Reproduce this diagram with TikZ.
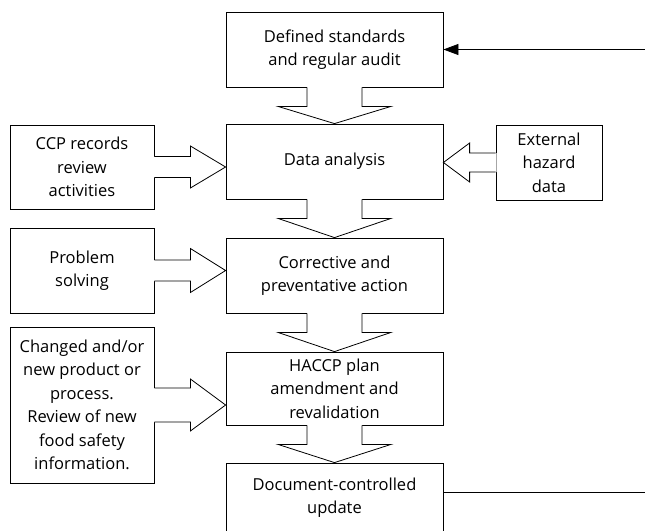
\documentclass[tikz,border=0pt]{standalone}
\usepackage{fontspec}
\setmainfont{Open Sans}
\usetikzlibrary{arrows.meta,calc}

% Hollow block arrows joining two boxes; the white fill overshoots 1pt
% into the source box so that its edge is opened between the stem lines.
\newcommand\blockdown[2]{%
  \fill[white] let \p1=(#1.south), \p2=(#2.north) in
    (\x1-27.5pt,\y1+1pt) -- (\x1-27.5pt,\y1-19pt) -- (\x1-56.5pt,\y1-19pt) --
    (\x1,\y2) -- (\x1+56.5pt,\y1-19pt) -- (\x1+27.5pt,\y1-19pt) --
    (\x1+27.5pt,\y1+1pt) -- cycle;
  \draw[blk] let \p1=(#1.south), \p2=(#2.north) in
    (\x1-27.5pt,\y1) -- (\x1-27.5pt,\y1-19pt) -- (\x1-56.5pt,\y1-19pt) --
    (\x1,\y2) -- (\x1+56.5pt,\y1-19pt) -- (\x1+27.5pt,\y1-19pt) --
    (\x1+27.5pt,\y1);}
\newcommand\blockright[4]{% from, to, stem half-width, head half-width
  \fill[white] let \p1=(#1.east), \p2=(#2.west) in
    (\x1-1pt,\y1+#3) -- (\x1+36pt,\y1+#3) -- (\x1+36pt,\y1+#4) --
    (\x2,\y1) -- (\x1+36pt,\y1-#4) -- (\x1+36pt,\y1-#3) --
    (\x1-1pt,\y1-#3) -- cycle;
  \draw[blk] let \p1=(#1.east), \p2=(#2.west) in
    (\x1,\y1+#3) -- (\x1+36pt,\y1+#3) -- (\x1+36pt,\y1+#4) --
    (\x2,\y1) -- (\x1+36pt,\y1-#4) -- (\x1+36pt,\y1-#3) -- (\x1,\y1-#3);}
\newcommand\blockleft[4]{%
  \fill[white] let \p1=(#1.west), \p2=(#2.east) in
    (\x1+1pt,\y1+#3) -- (\x1-26pt,\y1+#3) -- (\x1-26pt,\y1+#4) --
    (\x2,\y1) -- (\x1-26pt,\y1-#4) -- (\x1-26pt,\y1-#3) --
    (\x1+1pt,\y1-#3) -- cycle;
  \draw[blk] let \p1=(#1.west), \p2=(#2.east) in
    (\x1,\y1+#3) -- (\x1-26pt,\y1+#3) -- (\x1-26pt,\y1+#4) --
    (\x2,\y1) -- (\x1-26pt,\y1-#4) -- (\x1-26pt,\y1-#3) -- (\x1,\y1-#3);}

\begin{document}
\begin{tikzpicture}[x=1pt,y=-1pt,
  box/.style={draw, line width=0.8pt, align=center, inner sep=0pt,
    font=\fontsize{16.5}{23.5}\selectfont},
  mainbox/.style={box, minimum width=217pt},
  sidebox/.style={box, minimum width=144pt},
  blk/.style={draw, line width=0.8pt, line join=miter},
  loopline/.style={draw, line width=0.8pt}]
\useasboundingbox (0,0) rectangle (645,530);

% main column
\node[mainbox, minimum height=75pt] (std)  at (334.5,49.5)  {Defined standards\\and regular audit};
\node[mainbox, minimum height=75pt] (data) at (334.5,161.5) {Data analysis};
\node[mainbox, minimum height=75pt] (corr) at (334.5,275.5) {Corrective and\\preventative action};
\node[mainbox, minimum height=73pt] (plan) at (334.5,388.5) {HACCP plan\\amendment and\\revalidation};
\node[mainbox, minimum height=69pt] (doc)  at (334.5,497.5) {Document-controlled\\update};

% inputs
\node[sidebox, minimum height=84pt]  (ccp)  at (82,167)   {CCP records\\review\\activities};
\node[sidebox, minimum height=85pt]  (prob) at (82,270.5) {Problem\\solving};
\node[sidebox, minimum height=156pt] (chg)  at (82,405)   {Changed and/or\\new product or\\process.\\Review of new\\food safety\\information.};
\node[box, minimum width=106pt, minimum height=75pt] (ext) at (549,162.5) {External\\hazard\\data};

% flow between the main steps
\blockdown{std}{data}
\blockdown{data}{corr}
\blockdown{corr}{plan}
\blockdown{plan}{doc}

% inputs feeding the main steps
\blockright{ccp}{data}{10.5pt}{21pt}
\blockright{prob}{corr}{10.5pt}{22pt}
\blockright{chg}{plan}{17pt}{26pt}
\blockleft{ext}{data}{9.5pt}{19.5pt}

% feedback loop leaving and re-entering at the right edge
\coordinate (loopin)  at (645,49.5);
\coordinate (loopout) at (645,492);
\draw[loopline, -{Triangle[length=15pt,width=11pt]}] (loopin) -- (std.east);
\draw[loopline] (doc.east |- loopout) -- (loopout);
\end{tikzpicture}
\end{document}
